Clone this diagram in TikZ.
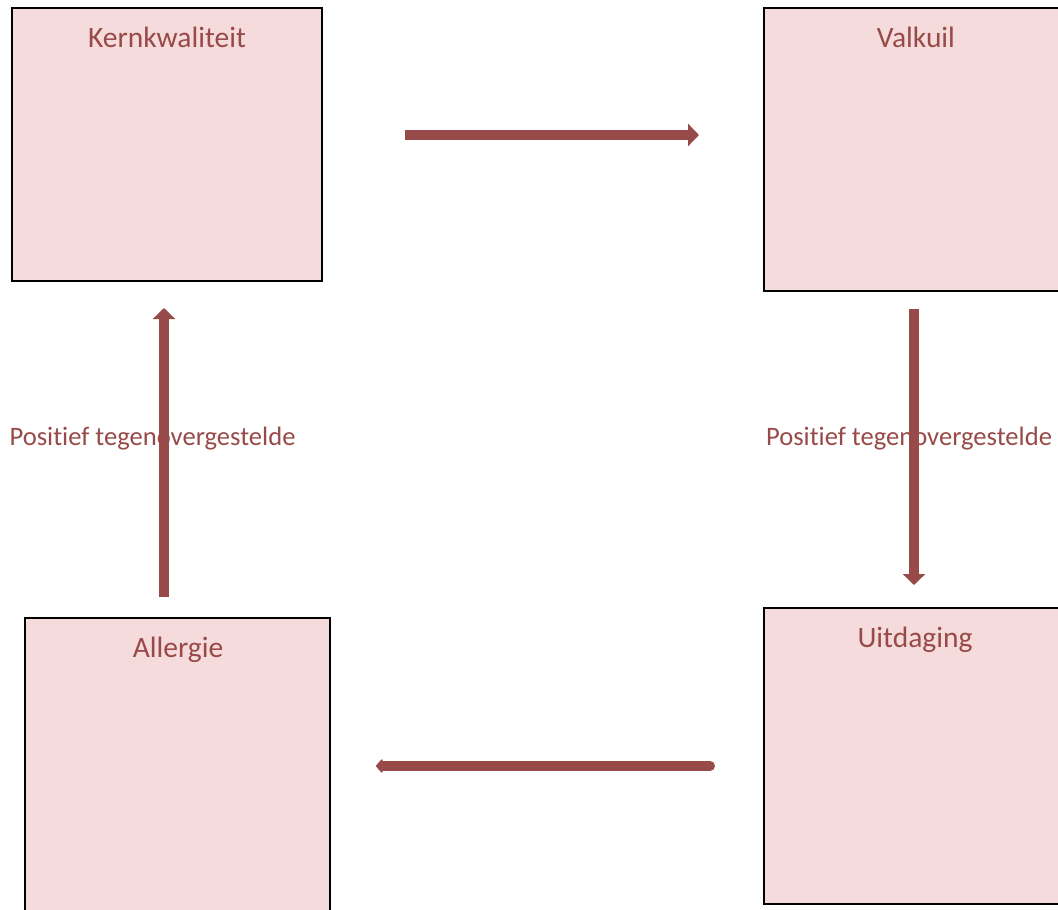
\documentclass[tikz,border=0pt]{standalone}
\usepackage{fontspec}
\setmainfont{Carlito}[Ligatures={NoCommon}]
\usetikzlibrary{arrows.meta}
\definecolor{boxfill}{HTML}{F5DBDB}
\definecolor{darkred}{HTML}{984A48}
\begin{document}
\begin{tikzpicture}[x=1pt,y=-1pt,
  title/.style={anchor=base,inner sep=0pt,text=darkred,font=\fontsize{29.5}{35}\selectfont},
  lbl/.style={anchor=base,inner sep=0pt,text=darkred,font=\fontsize{26.6}{32}\selectfont},
  card/.style={draw=black,line width=1.2pt,fill=boxfill},
  flow/.style={draw=darkred,line width=10.5pt,-{Triangle[width=22pt,length=11pt]}},
  flowround/.style={draw=darkred,line width=10pt,line cap=round,-{Triangle[width=16pt,length=7pt,round]}}]
\useasboundingbox (0,0) rectangle (1058,910);
% boxes
\draw[card] (12,8) rectangle (322,281);
\draw[card] (764,8) rectangle (1068,291);
\draw[card] (25,618) rectangle (330,920);
\draw[card] (764,608) rectangle (1068,904);
% titles
\node[title] (k) at (167,47) {Kernkwaliteit};
\node[title] (v) at (916,47) {Valkuil};
\node[title] (a) at (178,657) {Allergie};
\node[title] (u) at (915,647) {Uitdaging};
% labels
\node[lbl] (l1) at (152.5,445) {Positief tegenovergestelde};
\node[lbl] (l2) at (909,445) {Positief tegenovergestelde};
% arrow anchors
\coordinate (t1) at (405,135); \coordinate (t2) at (699,135);
\coordinate (r1) at (914,309); \coordinate (r2) at (914,585);
\coordinate (b1) at (710,766); \coordinate (b2) at (376,766);
\coordinate (lf1) at (164,597); \coordinate (lf2) at (164,308);
\draw[flow] (t1) -- (t2);
\draw[flow] (r1) -- (r2);
\draw[flowround] (b1) -- (b2);
\draw[flow] (lf1) -- (lf2);
\end{tikzpicture}
\end{document}
